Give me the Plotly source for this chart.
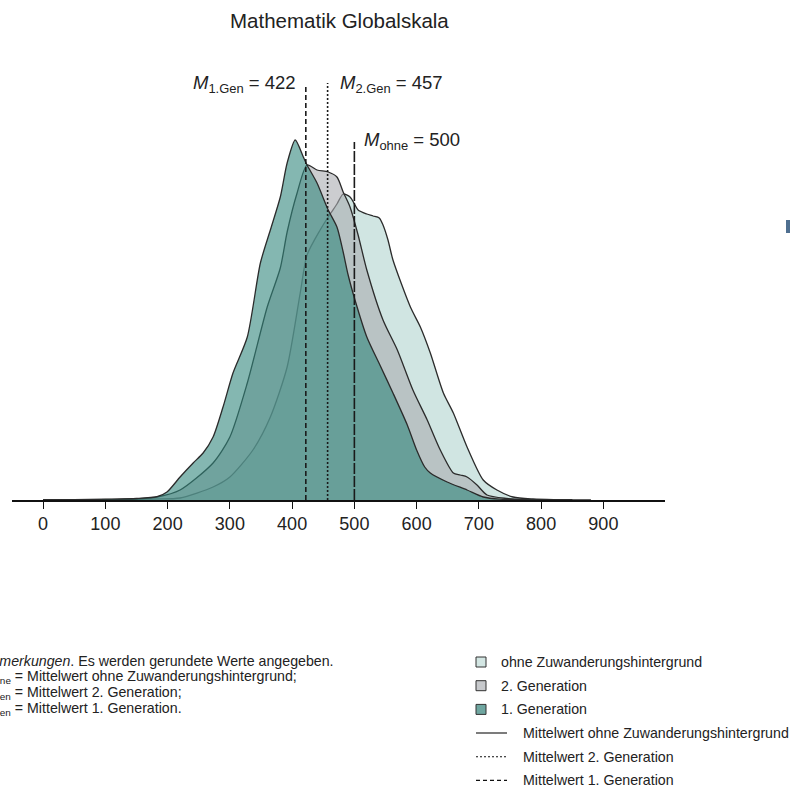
import plotly.graph_objects as go

# ---------------- data ----------------
score_ohne = [0, 100, 180, 220, 273, 300, 337, 365, 392, 413, 424, 445, 460, 472, 482, 493, 501,
              506, 520, 530, 540, 546, 554, 562, 590, 606, 622, 643, 659, 681, 707, 729, 755, 787, 820, 880]
dens_ohne = [0, 0.2, 1, 2, 13, 23, 50, 83, 133, 207, 245, 270, 285, 296, 306, 303, 295,
             290, 286, 284, 282, 275, 260, 240, 193, 173, 147, 107, 87, 53, 20, 10, 3, 1, 0.3, 0]

score_gen2 = [0, 60, 150, 183, 220, 273, 300, 328, 360, 381, 392, 408, 424, 440, 458, 472, 482,
              493, 506, 520, 546, 569, 594, 617, 638, 659, 670, 681, 697, 713, 745, 778, 850]
dens_gen2 = [0, 0.2, 1, 3, 10, 37, 63, 117, 193, 232, 268, 307, 335, 330, 328, 323, 308,
             293, 265, 230, 180, 150, 110, 80, 50, 27, 25, 23, 15, 5, 1.5, 0.3, 0]

score_gen1 = [0, 50, 100, 150, 183, 199, 220, 241, 257, 273, 289, 305, 328, 349, 365, 381, 392,
              405, 418, 424, 440, 458, 472, 482, 490, 501, 520, 541, 562, 585, 600, 613, 622,
              649, 681, 707, 734, 780, 850]
dens_gen1 = [0, 0.3, 0.8, 1.5, 3.3, 8, 23, 37, 47, 63, 93, 127, 163, 237, 270, 303, 337,
             360, 343, 335, 317, 290, 273, 248, 225, 200, 163, 135, 107, 75, 50, 33, 27,
             18, 10, 3, 0.8, 0.2, 0]

group_names = ["ohne Zuwanderungshintergrund", "2. Generation", "1. Generation"]
mean_values = [500, 457, 422]          # ohne, 2. Gen, 1. Gen
tick_values = [0, 100, 200, 300, 400, 500, 600, 700, 800, 900]
tick_labels = ["0", "100", "200", "300", "400", "500", "600", "700", "800", "900"]

# ---------------- layout constants ----------------
W, H = 790, 787
ML, MR, MT, MB = 12, 125, 60, 287
PW, PH = W - ML - MR, H - MT - MB
FONT = "Liberation Sans, Arial, Helvetica, sans-serif"
INK = "#222222"


def xp(px):
    return (px - ML) / PW


def yp(py):
    return (H - MB - py) / PH


fig = go.Figure()

fills = ["rgba(208,229,226,1)", "rgba(170,172,176,0.6)", "rgba(50,135,125,0.6)"]
series = [(score_ohne, dens_ohne), (score_gen2, dens_gen2), (score_gen1, dens_gen1)]
for (sx, sy), name, fc in zip(series, group_names, fills):
    fig.add_trace(go.Scatter(
        x=sx, y=sy, mode="lines", name=name, fill="tozeroy", fillcolor=fc,
        line=dict(color="#2b2b2b", width=1.3, shape="spline", smoothing=0.7),
        showlegend=False, hoverinfo="skip"))

# mean lines
mean_tops = [358, 417, 416]
mean_dash = ["11px,2px", "2px,2px", "5px,3px"]
for m, top, dsh in zip(mean_values, mean_tops, mean_dash):
    fig.add_trace(go.Scatter(
        x=[m, m], y=[0, top], mode="lines", showlegend=False, hoverinfo="skip",
        line=dict(color="#1a1a1a", width=1.6, dash=dsh)))

annotations = []
mfont = dict(size=18.5, color=INK, family=FONT)
annotations.append(dict(x=mean_values[2], y=416, xref="x", yref="y", xanchor="right", yanchor="middle",
                        xshift=-8, text=f"<i>M</i><sub>1.Gen</sub> = {mean_values[2]}",
                        showarrow=False, font=mfont))
annotations.append(dict(x=mean_values[1], y=416, xref="x", yref="y", xanchor="left", yanchor="middle",
                        xshift=10, text=f"<i>M</i><sub>2.Gen</sub> = {mean_values[1]}",
                        showarrow=False, font=mfont))
annotations.append(dict(x=mean_values[0], y=359, xref="x", yref="y", xanchor="left", yanchor="middle",
                        xshift=8, text=f"<i>M</i><sub>ohne</sub> = {mean_values[0]}",
                        showarrow=False, font=mfont))

# title
annotations.append(dict(x=xp(340), y=yp(20), xref="paper", yref="paper", xanchor="center", yanchor="middle",
                        text="Mathematik Globalskala", showarrow=False,
                        font=dict(size=20.5, color=INK, family=FONT)))

# notes (cut at the left border, as in the source)
nfont = dict(size=14.2, color=INK, family=FONT)
note_rows = [(661, -20.5, "<i>Anmerkungen</i>. Es werden gerundete Werte angegeben."),
             (677, -24, "<i>M</i><sub>ohne</sub> = Mittelwert ohne Zuwanderungshintergrund;"),
             (693, -29, "<i>M</i><sub>2.Gen</sub> = Mittelwert 2. Generation;"),
             (709, -29, "<i>M</i><sub>1.Gen</sub> = Mittelwert 1. Generation.")]
for py, px0, txt in note_rows:
    annotations.append(dict(x=xp(px0), y=yp(py), xref="paper", yref="paper", xanchor="left", yanchor="middle",
                            text=txt, showarrow=False, font=nfont, borderpad=0))

# legend (custom)
shapes = []
lfont = dict(size=14.2, color=INK, family=FONT)
sq_colors = ["#d3e6e3", "#c7c9cc", "#6fa6a0"]
for i, (nm, c) in enumerate(zip(group_names, sq_colors)):
    cy = 662 + 23.7 * i
    shapes.append(dict(type="rect", xref="paper", yref="paper", x0=xp(476), x1=xp(486),
                       y0=yp(cy + 5), y1=yp(cy - 5), fillcolor=c, line=dict(color="#333", width=1)))
    annotations.append(dict(x=xp(500), y=yp(cy), xref="paper", yref="paper", xanchor="left", yanchor="middle",
                            text=nm, showarrow=False, font=lfont, borderpad=0))
line_items = [("Mittelwert ohne Zuwanderungshintergrund", "solid"),
              ("Mittelwert 2. Generation", "2px,2px"),
              ("Mittelwert 1. Generation", "4px,3px")]
for i, (nm, dsh) in enumerate(line_items):
    cy = 733 + 23.7 * i
    shapes.append(dict(type="line", xref="paper", yref="paper", x0=xp(476), x1=xp(507),
                       y0=yp(cy), y1=yp(cy), line=dict(color="#111", width=1.1, dash=dsh)))
    annotations.append(dict(x=xp(522), y=yp(cy), xref="paper", yref="paper", xanchor="left", yanchor="middle",
                            text=nm, showarrow=False, font=lfont, borderpad=0))

# small cut-off mark at the right border
shapes.append(dict(type="rect", xref="paper", yref="paper", x0=xp(786), x1=xp(790),
                   y0=yp(233), y1=yp(220), fillcolor="#4f6f90", line=dict(width=0)))

fig.update_layout(
    width=W, height=H,
    margin=dict(l=ML, r=MR, t=MT, b=MB, pad=0),
    paper_bgcolor="white", plot_bgcolor="white",
    font=dict(family=FONT, color=INK),
    xaxis=dict(range=[-50, 999], showgrid=False, zeroline=False, showline=True, linecolor="#111",
               linewidth=1.5, ticks="outside", ticklen=7, tickwidth=1.2, tickcolor="#111",
               tickvals=tick_values, ticktext=tick_labels, tickfont=dict(size=18, color=INK, family=FONT)),
    yaxis=dict(range=[0, 440], visible=False, fixedrange=True),
    annotations=annotations, shapes=shapes,
    showlegend=False,
)

fig.write_html("out.html",
               config={"displayModeBar": False},
               post_script="document.body.style.margin='0';"
                           "document.documentElement.style.overflow='hidden';")
